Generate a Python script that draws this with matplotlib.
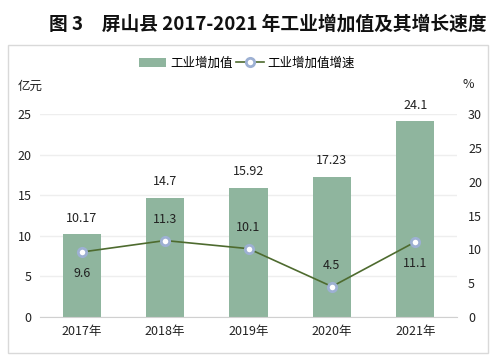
import matplotlib.pyplot as plt
from matplotlib.patches import Rectangle
import numpy as np

plt.rcParams['font.family'] = ['Noto Sans CJK SC', 'DejaVu Sans']

years = ['2017年', '2018年', '2019年', '2020年', '2021年']
value = [10.17, 14.7, 15.92, 17.23, 24.1]
growth = [9.6, 11.3, 10.1, 4.5, 11.1]
growth_below = [True, False, False, False, True]

bar_color = '#8fb59e'
line_color = '#4e6b2f'
text_color = '#222222'

fig = plt.figure(figsize=(4.98, 3.61), dpi=100)
fig.patches.append(Rectangle((8 / 498, 1 - 353 / 361), 480 / 498, 308 / 361,
                             transform=fig.transFigure, fill=False,
                             edgecolor='#d9d9d9', linewidth=1))

fig.text(268 / 498, 1 - 24 / 361, '图 3　屏山县 2017-2021 年工业增加值及其增长速度',
         ha='center', va='center', fontsize=13.5, fontweight='bold', color='#111111')

ax = fig.add_axes([40 / 498, 1 - 317 / 361, 417 / 498, 203 / 361])
x = np.arange(len(years))
bars = ax.bar(x, value, width=0.46, color=bar_color, zorder=2, label='工业增加值')
ax.set_xlim(-0.5, 4.5)
ax.set_ylim(0, 25)
ax.set_yticks(range(0, 26, 5))
ax.set_xticks(x)
ax.set_xticklabels(years)
ax.grid(axis='y', color='#eeeeee', linewidth=1, zorder=0)
for s in ['top', 'right', 'left']:
    ax.spines[s].set_visible(False)
ax.spines['bottom'].set_color('#d0d0d0')
ax.tick_params(length=0, labelsize=9, colors=text_color, pad=6)
for xi, v in zip(x, value):
    ax.text(xi, v + 1.2, f'{v:g}', ha='center', va='bottom', fontsize=9, color=text_color)

ax2 = ax.twinx()
ax2.set_ylim(0, 30)
ax2.set_yticks(range(0, 31, 5))
ax2.plot(x, growth, color=line_color, linewidth=1.2, marker='o', markersize=6,
         markerfacecolor='white', markeredgecolor='#9db0d3', markeredgewidth=2,
         zorder=3, label='工业增加值增速')
for s in ['top', 'right', 'left', 'bottom']:
    ax2.spines[s].set_visible(False)
ax2.tick_params(length=0, labelsize=9, colors=text_color, pad=8)
for xi, g, below in zip(x, growth, growth_below):
    if below:
        ax2.text(xi, g - 2.2, f'{g:g}', ha='center', va='top', fontsize=9, color=text_color)
    else:
        ax2.text(xi, g + 2.2, f'{g:g}', ha='center', va='bottom', fontsize=9, color=text_color)

fig.text(18 / 498, 1 - 86 / 361, '亿元', ha='left', va='center', fontsize=9, color=text_color)
fig.text(468 / 498, 1 - 84 / 361, '%', ha='center', va='center', fontsize=9, color=text_color)

h1, l1 = ax.get_legend_handles_labels()
h2, l2 = ax2.get_legend_handles_labels()
fig.legend(h1 + h2, l1 + l2, loc='center', bbox_to_anchor=(247 / 498, 1 - 63 / 361),
           ncol=2, frameon=False, fontsize=9, handlelength=2.2, handletextpad=0.3,
           columnspacing=0.3, borderaxespad=0)

fig.savefig('out.png', dpi=100)
